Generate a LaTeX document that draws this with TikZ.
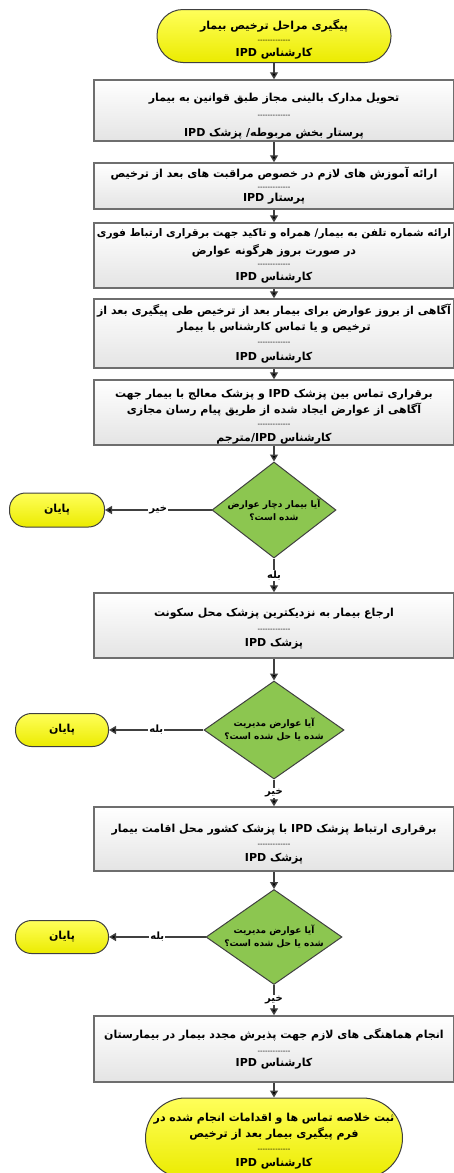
\documentclass[tikz,border=0pt]{standalone}
\usepackage{fontspec}
\newfontfamily\farsi[Script=Arabic]{DejaVu Sans}
\TeXXeTstate=1
\usetikzlibrary{shapes.geometric, arrows.meta, positioning}
\definecolor{boxline}{RGB}{110,110,110}
\definecolor{darkline}{RGB}{64,64,64}
\definecolor{termtop}{RGB}{255,255,90}
\definecolor{termbot}{RGB}{235,235,0}
\definecolor{boxbot}{RGB}{228,228,228}
\definecolor{decfill}{RGB}{140,198,80}
\newcommand{\rl}[1]{\beginR #1\endR}
\newcommand{\sepline}{{\fontsize{7}{7}\selectfont\mdseries -------------}}
\newcommand{\topgap}[1]{\rule{0pt}{#1}} % pushes a box text down a little
\tikzset{
    flow/.style={->, >={Triangle[width=8pt,length=7pt]}, draw=darkline, line width=1.4pt}, % connectors
    terminal/.style={draw=darkline, line width=1pt, top color=termtop, bottom color=termbot,
        rounded corners=16pt, align=center, inner sep=2pt}, % start and end
    process/.style={draw=boxline, line width=1.5pt, top color=white, bottom color=boxbot,
        minimum width=360pt, align=center, inner sep=0pt}, % action boxes
    decision/.style={diamond, draw=darkline, line width=1pt, fill=decfill, inner sep=0pt}, % questions
    question/.style={align=center, font=\farsi\bfseries\fontsize{9}{13}\selectfont}, % text in a question
    lbl/.style={fill=white, inner sep=1pt, font=\farsi\bfseries\fontsize{10}{12}\selectfont}, % edge labels
}
\begin{document}
\begin{tikzpicture}[x=1pt, y=-1pt, font=\farsi\bfseries\fontsize{11}{16}\selectfont]
    \useasboundingbox (0,0) rectangle (454,1173);

    \node[terminal, minimum width=234pt, minimum height=53pt, rounded corners=26pt] (t0) at (274,36)
        {\topgap{16pt}\rl{پیگیری مراحل ترخیص بیمار}\\[-3pt]\sepline\\[-2pt]\rl{کارشناس IPD}};
    \node[process, minimum height=61pt] (b1) at (274,110.5)
        {\topgap{20pt}\rl{تحویل مدارک بالینی مجاز طبق قوانین به بیمار}\\[0pt]\sepline\\[3pt]\rl{پرستار بخش مربوطه/ پزشک IPD}};
    \node[process, minimum height=46pt] (b2) at (274,186)
        {\rl{ارائه آموزش های لازم در خصوص مراقبت های بعد از ترخیص}\\[-4pt]\sepline\\[-4pt]\rl{پرستار IPD}};
    \node[process, minimum height=65pt] (b3) at (274,255.5)
        {{\fontsize{10.5}{16}\selectfont\rl{ارائه شماره تلفن به بیمار/ همراه و تاکید جهت برقراری ارتباط فوری}}\\[2pt]\rl{در صورت بروز هرگونه عوارض}\\[-4pt]\sepline\\[-2pt]\rl{کارشناس IPD}};
    \node[process, minimum height=69pt] (b4) at (274,333.5)
        {\rl{آگاهی از بروز عوارض برای بیمار بعد از ترخیص طی پیگیری بعد از}\\\rl{ترخیص و یا تماس کارشناس با بیمار}\\[-2pt]\sepline\\[0pt]\rl{کارشناس IPD}};
    \node[process, minimum height=65pt] (b5) at (274,412.5)
        {\topgap{16pt}\rl{برقراری تماس بین پزشک IPD و پزشک معالج با بیمار جهت}\\[0pt]\rl{آگاهی از عوارض ایجاد شده از طریق پیام رسان مجازی}\\[-3pt]\sepline\\[-1pt]\rl{کارشناس IPD\kern0pt/\kern0ptمترجم}};

    \node[decision, minimum width=124pt, minimum height=96pt,
        label={[question]center:\beginR آیا بیمار دچار عوارض\endR\\\beginR شده است؟\endR}] (d1) at (274,510) {};
    \node[terminal, minimum width=95pt, minimum height=34pt] (e1) at (57,510) {\rl{پایان}};

    \node[process, minimum height=65pt] (b6) at (274,625.5)
        {\topgap{14.5pt}\rl{ارجاع بیمار به نزدیکترین پزشک محل سکونت}\\[-1pt]\sepline\\[-1pt]\rl{پزشک IPD}};
    \node[decision, minimum width=140pt, minimum height=98pt,
        label={[question]center:\beginR آیا عوارض مدیریت\endR\\\beginR شده یا حل شده است؟\endR}] (d2) at (274,730) {};
    \node[terminal, minimum width=93pt, minimum height=33pt] (e2) at (62,730) {\rl{پایان}};

    \node[process, minimum height=64pt] (b7) at (274,839)
        {\topgap{18pt}\rl{برقراری ارتباط پزشک IPD با پزشک کشور محل اقامت بیمار}\\[-2pt]\sepline\\[-1pt]\rl{پزشک IPD}};
    \node[decision, minimum width=136pt, minimum height=95pt,
        label={[question]center:\beginR آیا عوارض مدیریت\endR\\\beginR شده یا حل شده است؟\endR}] (d3) at (274,937) {};
    \node[terminal, minimum width=93pt, minimum height=33pt] (e3) at (62,937) {\rl{پایان}};

    \node[process, minimum height=66pt] (b8) at (274,1049)
        {\rl{انجام هماهنگی های لازم جهت پذیرش مجدد بیمار در بیمارستان}\\[-1pt]\sepline\\[-3pt]\rl{کارشناس IPD}};
    \node[terminal, minimum width=257pt, minimum height=80pt, rounded corners=40pt] (t9) at (274,1138)
        {\topgap{14.5pt}\rl{ثبت خلاصه تماس ها و اقدامات انجام شده در}\\\rl{فرم پیگیری بیمار بعد از ترخیص}\\[-2pt]\sepline\\[-1pt]\rl{کارشناس IPD}};

    \path[flow]
        (t0) edge (b1)
        (b1) edge (b2)
        (b2) edge (b3)
        (b3) edge (b4)
        (b4) edge (b5)
        (b5) edge (d1)
        (d1) edge node[lbl] {\rl{خیر}} (e1)
             edge node[lbl] {\rl{بله}} (b6)
        (b6) edge (d2)
        (d2) edge node[lbl] {\rl{بله}} (e2)
             edge node[lbl] {\rl{خیر}} (b7)
        (b7) edge (d3)
        (d3) edge node[lbl] {\rl{بله}} (e3)
             edge node[lbl] {\rl{خیر}} (b8)
        (b8) edge (t9);
\end{tikzpicture}
\end{document}
